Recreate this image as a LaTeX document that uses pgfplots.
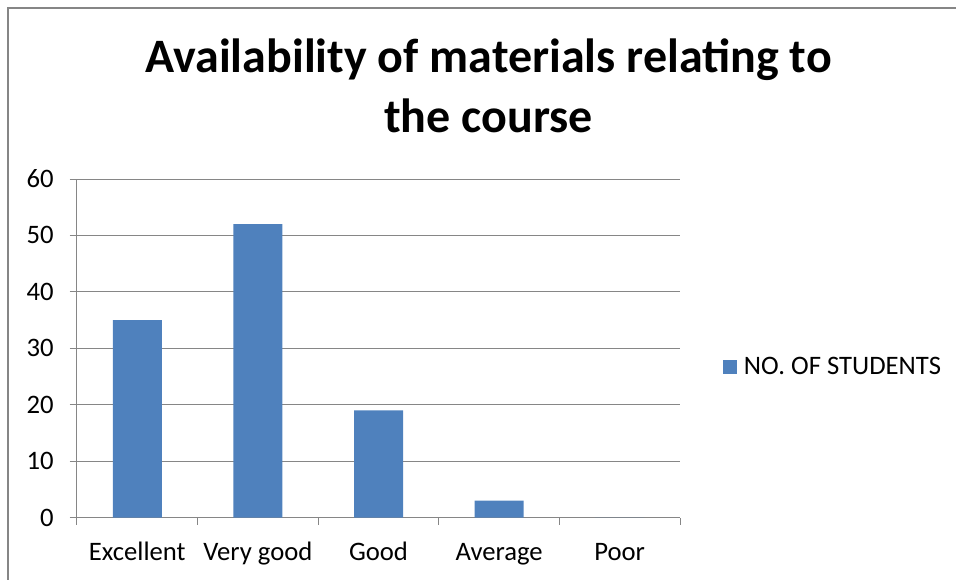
\documentclass[border=0pt]{standalone}
\usepackage{pgfplots}
\pgfplotsset{compat=1.18}
\usepackage{fontspec}
\setmainfont{Carlito}
\definecolor{barblue}{RGB}{79,129,189}
\definecolor{gridgray}{RGB}{134,134,134}
\begin{document}
\begin{tikzpicture}
\useasboundingbox (0,0) rectangle (717pt,434.25pt);
\draw[gridgray, line width=0.9pt] (6pt,-2pt) -- (6pt,428.25pt) -- (720pt,428.25pt);
\node[anchor=base, font=\fontsize{36}{42}\selectfont\bfseries] at (366.4pt,379.8pt) {Availability of materials relating to};
\node[anchor=base, font=\fontsize{36}{42}\selectfont\bfseries] at (366.4pt,334.5pt) {the course};
\begin{axis}[
  at={(57.75pt,46.125pt)}, anchor=south west,
  scale only axis, width=452.25pt, height=253.875pt,
  ybar, bar width=36.75pt,
  xmin=-0.5, xmax=4.5, ymin=0, ymax=60,
  ytick={0,10,...,60},
  xtick={-0.5,0.5,1.5,2.5,3.5,4.5},
  xticklabels={},
  extra x ticks={0,1,2,3,4},
  extra x tick labels={Excellent,Very good,Good,Average,Poor},
  extra x tick style={major tick length=0pt, tick style={draw=none}, grid=none},
  axis x line*=bottom, axis y line*=left,
  axis line style={gridgray, line width=0.75pt, -},
  ymajorgrids, grid style={gridgray, line width=0.75pt},
  tick align=outside,
  major tick length=5.5pt,
  tick style={gridgray, line width=0.75pt},
  tick label style={font=\fontsize{20}{24}\selectfont},
  /pgf/number format/assume math mode=true,
  yticklabel style={anchor=east, xshift=-8.5pt},
  xticklabel style={anchor=base, yshift=-31.9pt},
  legend style={at={(1.0713,0.4446)}, anchor=west, draw=none, fill=none, inner sep=0pt,
    font=\fontsize{20}{24}\selectfont, column sep=0pt},
  legend image code/.code={\fill[barblue] (0pt,-5.25pt) rectangle (10.5pt,5.25pt); \path (13.5pt,0pt);},
]
\addplot[fill=barblue, draw=none] coordinates {(0,35) (1,52) (2,19) (3,3) (4,0)};
\addlegendentry{NO. OF STUDENTS}
\end{axis}
\end{tikzpicture}
\end{document}
